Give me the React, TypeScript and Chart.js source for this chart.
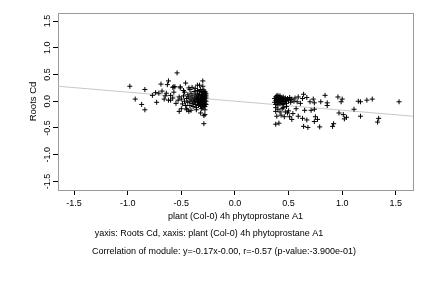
import React, { useEffect, useRef } from "react";
import { Chart, registerables } from "chart.js";

Chart.register(...registerables);

// Scatter points (x: plant (Col-0) 4h phytoprostane A1, y: Roots Cd)
const leftX = [
  -0.98, -0.93, -0.87, -0.84, -0.84, -0.77, -0.74, -0.73, -0.71, -0.69, -0.68, -0.62, -0.62, -0.60, -0.60,
  -0.58, -0.57, -0.54, -0.56, -0.53, -0.52, -0.50, -0.51, -0.46, -0.43, -0.43, -0.37, -0.35, -0.30, -0.28,
  -0.29, -0.63, -0.57, -0.51, -0.45, -0.41, -0.32, -0.29,
  -0.45, -0.44, -0.44, -0.43, -0.42, -0.42, -0.41, -0.41, -0.40, -0.40, -0.39, -0.39, -0.38, -0.38, -0.38,
  -0.37, -0.37, -0.37, -0.36, -0.36, -0.36, -0.35, -0.35, -0.35, -0.35, -0.34, -0.34, -0.34, -0.34, -0.33,
  -0.33, -0.33, -0.33, -0.32, -0.32, -0.32, -0.32, -0.32, -0.31, -0.31, -0.31, -0.31, -0.31, -0.30, -0.30,
  -0.30, -0.30, -0.30, -0.30, -0.29, -0.29, -0.29, -0.29, -0.29, -0.29, -0.28, -0.28, -0.28, -0.28, -0.28,
  -0.28, -0.28, -0.27, -0.27, -0.27, -0.27, -0.27,
  -0.50, -0.49, -0.48, -0.47, -0.47, -0.46, -0.52, -0.55, -0.58, -0.65, -0.66, -0.64, -0.48, -0.42, -0.40,
  -0.33, -0.30, -0.45, -0.36, -0.31, -0.28,
];
const leftY = [
  0.28, 0.04, -0.06, 0.22, -0.16, 0.11, 0.16, -0.02, 0.15, 0.32, 0.19, 0.38, 0.02, 0.02, 0.11,
  0.26, 0.17, 0.53, 0.27, 0.02, -0.19, -0.14, 0.25, 0.34, -0.19, 0.25, 0.24, 0.30, 0.38, -0.25,
  -0.42, 0.31, 0.27, 0.27, -0.16, -0.17, -0.22, -0.27,
  0.05, -0.02, 0.12, 0.08, 0.00, -0.08, 0.15, 0.04, -0.04, 0.10, 0.02, -0.10, 0.18, 0.06, -0.02,
  0.12, 0.00, -0.06, 0.08, 0.03, -0.12, 0.15, 0.05, -0.03, 0.20, 0.10, 0.00, -0.08, 0.06, 0.13,
  0.02, -0.05, 0.18, 0.08, -0.02, 0.04, -0.10, 0.22, 0.12, 0.06, 0.00, -0.06, 0.16, 0.10, 0.03,
  -0.03, -0.12, 0.19, 0.07, 0.14, 0.05, -0.01, -0.08, 0.21, 0.10, 0.16, 0.08, 0.02, -0.04, -0.10,
  0.12, 0.18, 0.06, 0.00, 0.14, -0.06, 0.10,
  0.04, -0.05, 0.10, 0.00, 0.17, -0.08, 0.08, -0.04, 0.06, 0.10, 0.04, 0.15, 0.20, 0.22, 0.26,
  0.30, 0.28, -0.14, -0.16, -0.14, -0.16,
];
const rightX = [
  0.37, 0.37, 0.38, 0.38, 0.38, 0.39, 0.39, 0.39, 0.40, 0.40, 0.40, 0.40, 0.41, 0.41, 0.41, 0.42, 0.42,
  0.42, 0.42, 0.43, 0.43, 0.43, 0.44, 0.44, 0.44, 0.45, 0.45, 0.45, 0.46, 0.46, 0.47, 0.47, 0.48, 0.48,
  0.49, 0.50, 0.51, 0.52, 0.53, 0.55, 0.56, 0.38, 0.40, 0.42, 0.45, 0.47, 0.48,
  0.38, 0.39, 0.38, 0.41, 0.43, 0.44, 0.46, 0.49, 0.50, 0.51, 0.53, 0.52, 0.54, 0.57, 0.58, 0.59, 0.59,
  0.61, 0.63, 0.63, 0.64, 0.65, 0.67, 0.67, 0.64, 0.68, 0.70, 0.71, 0.73, 0.74, 0.74, 0.75, 0.77, 0.74,
  0.79, 0.80, 0.84, 0.86, 0.86, 0.91, 0.92, 0.96, 0.97, 0.99, 1.00, 1.01, 1.02, 1.04, 1.11, 1.15, 1.17,
  1.17, 1.23, 1.28, 1.33, 1.34, 1.53,
];
const rightY = [
  0.05, -0.02, 0.08, 0.01, -0.06, 0.10, 0.03, -0.03, 0.06, 0.00, 0.11, -0.07, 0.04, -0.02, 0.08, 0.01, 0.06,
  -0.05, 0.10, 0.03, -0.01, 0.07, 0.05, -0.04, 0.00, 0.08, 0.02, -0.06, 0.04, -0.01, 0.06, 0.00, 0.03, -0.04,
  0.05, 0.01, 0.07, -0.02, 0.04, 0.00, 0.06, -0.12, -0.15, -0.20, -0.12, -0.20, -0.10,
  -0.19, -0.28, -0.43, -0.41, -0.26, -0.14, -0.29, -0.22, -0.18, -0.29, -0.34, 0.03, -0.23, -0.14, -0.01, 0.08, -0.28,
  -0.04, -0.32, 0.05, 0.13, -0.17, 0.07, -0.35, -0.47, -0.49, -0.01, -0.17, 0.04, -0.03, -0.15, -0.29, -0.34, -0.38,
  -0.48, -0.01, 0.11, -0.03, -0.08, -0.47, -0.42, 0.08, -0.22, -0.01, 0.04, -0.25, -0.33, -0.30, -0.15, 0.00, -0.01,
  -0.28, 0.02, 0.04, -0.39, -0.32, -0.01,
];

// Fitted line endpoints
const fitX = [-1.65, 1.66];
const fitY = [0.28, -0.28];

const xTicks = [-1.5, -1.0, -0.5, 0.0, 0.5, 1.0, 1.5];
const yTicks = [-1.5, -1.0, -0.5, 0.0, 0.5, 1.0, 1.5];
const xRange = [-1.65, 1.66];
const yRange = [-1.66, 1.65];

const xTitle = "plant (Col-0) 4h phytoprostane A1";
const yTitle = "Roots Cd";
const caption1 = "yaxis: Roots Cd, xaxis: plant (Col-0) 4h phytoprostane A1";
const caption2 = "Correlation of module: y=-0.17x-0.00, r=-0.57 (p-value:-3.900e-01)";

const FONT = "'Liberation Sans', Arial, Helvetica, sans-serif";

export default function App() {
  const ref = useRef<HTMLCanvasElement | null>(null);

  useEffect(() => {
    if (!ref.current) return;
    const pts = [
      ...leftX.map((x, i) => ({ x, y: leftY[i] })),
      ...rightX.map((x, i) => ({ x, y: rightY[i] })),
    ];
    const fit = fitX.map((x, i) => ({ x, y: fitY[i] }));

    const boxPlugin = {
      id: "boxAndCaptions",
      beforeDatasetsDraw(chart: any) {
        const { ctx, chartArea } = chart;
        ctx.save();
        ctx.strokeStyle = "#9a9a9a";
        ctx.lineWidth = 1;
        ctx.strokeRect(chartArea.left + 0.5, chartArea.top + 0.5, chartArea.right - chartArea.left, chartArea.bottom - chartArea.top);
        ctx.restore();
      },
      afterDraw(chart: any) {
        const { ctx } = chart;
        ctx.save();
        ctx.fillStyle = "#000";
        ctx.font = `9px ${FONT}`;
        ctx.textAlign = "center";
        ctx.textBaseline = "middle";
        ctx.fillText(caption1, 209, 234);
        ctx.fillText(caption2, 224, 252);
        ctx.restore();
      },
    };

    const chart = new Chart(ref.current, {
      type: "scatter",
      data: {
        datasets: [
          {
            data: pts,
            showLine: false,
            pointStyle: "cross",
            pointRadius: 2.5,
            pointBorderWidth: 1,
            borderColor: "#000",
            backgroundColor: "#000",
            order: 0,
          } as any,
          {
            data: fit,
            showLine: true,
            pointRadius: 0,
            borderColor: "#c8c8c8",
            borderWidth: 1,
            order: 1,
          } as any,
        ],
      },
      options: {
        animation: false,
        responsive: false,
        devicePixelRatio: 1,
        layout: { padding: { left: 0, top: 13, right: 19, bottom: 0 } },
        plugins: { legend: { display: false }, tooltip: { enabled: false } },
        scales: {
          x: {
            type: "linear",
            min: xRange[0],
            max: xRange[1],
            afterFit: (s: any) => { s.height = 98; },
            afterBuildTicks: (s: any) => { s.ticks = xTicks.map((v) => ({ value: v })); },
            ticks: {
              callback: (v: any) => Number(v).toFixed(1),
              font: { family: FONT, size: 9 },
              color: "#000",
              padding: 3,
              maxRotation: 0,
              autoSkip: false,
            },
            grid: { drawOnChartArea: false, drawTicks: true, tickLength: 5, color: "#000" },
            border: { display: true, color: "#000", width: 1 },
            title: {
              display: true,
              text: xTitle,
              color: "#000",
              font: { family: FONT, size: 9 },
              padding: { top: 0, bottom: 66 },
            },
          },
          y: {
            type: "linear",
            min: yRange[0],
            max: yRange[1],
            afterFit: (s: any) => { s.width = 58; },
            afterBuildTicks: (s: any) => { s.ticks = yTicks.map((v) => ({ value: v })); },
            ticks: {
              callback: (v: any) => Number(v).toFixed(1),
              font: { family: FONT, size: 9 },
              color: "#000",
              padding: -2,
              minRotation: 90,
              maxRotation: 90,
              crossAlign: "center",
              autoSkip: false,
            },
            grid: { drawOnChartArea: false, drawTicks: true, tickLength: 5, color: "#000" },
            border: { display: true, color: "#000", width: 1 },
            title: {
              display: true,
              text: yTitle,
              color: "#000",
              font: { family: FONT, size: 9.5 },
              padding: { top: 28, bottom: 0 },
            },
          },
        },
      },
      plugins: [boxPlugin],
    });
    return () => chart.destroy();
  }, []);

  return (
    <div style={{ position: "fixed", left: 0, top: 0, width: 432, height: 288, background: "#fff" }}>
      <canvas ref={ref} width={432} height={288} />
    </div>
  );
}
